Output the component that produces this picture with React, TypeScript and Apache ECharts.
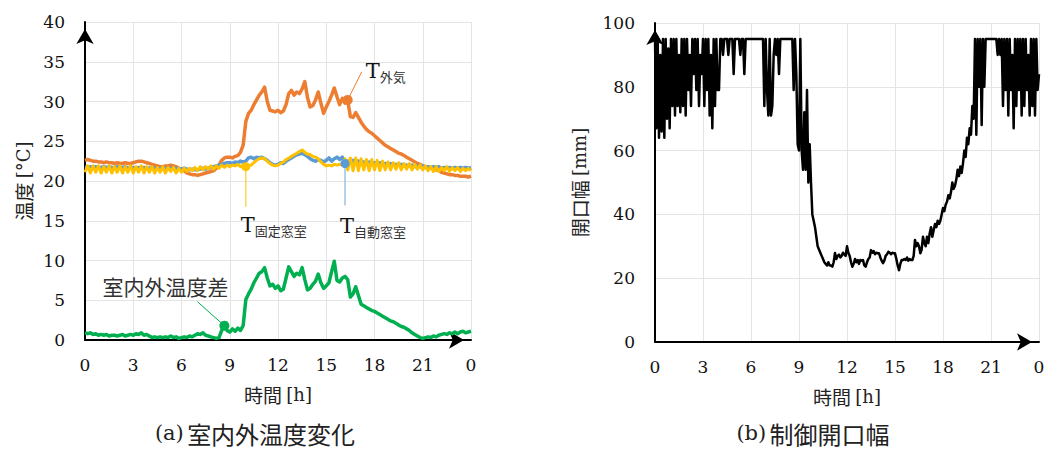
import React, { useEffect, useRef } from 'react';
import * as echarts from 'echarts';

// sampling step of the temperature series: 10 minutes (in hours)
const STEP_H = 1 / 6;
// sampling step of the opening width series: 5 minutes (in hours)
const STEP_OPEN_H = 1 / 12;

const xTickLabels = ['0', '3', '6', '9', '12', '15', '18', '21', '0'];

// T外気 [°C]
const tempOutside = [
  22.6, 22.7, 22.6, 22.5, 22.5, 22.4,
  22.4, 22.3, 22.4, 22.3, 22.3, 22.2,
  22.3, 22.2, 22.2, 22.3, 22.2, 22.2,
  22.3, 22.4, 22.5, 22.5, 22.4, 22.3,
  22.2, 22.1, 22.0, 21.9, 21.8, 21.8,
  21.9, 21.9, 22.0, 21.9, 21.8, 21.6,
  21.5, 21.3, 21.0, 20.9, 20.8, 20.8,
  20.7, 20.8, 20.9, 21.0, 21.1, 21.2,
  21.3, 21.6, 22.0, 22.6, 22.9, 23.0,
  23.0, 22.9, 23.1, 23.2, 23.6, 24.5,
  27.5, 28.5, 28.9, 29.6, 30.2, 30.8,
  31.2, 31.8, 30.0, 28.9, 28.8, 28.7,
  28.9, 28.6, 28.8, 29.6, 31.0, 31.4,
  30.8, 31.2, 31.0, 31.6, 32.5, 30.5,
  29.3, 29.5, 30.2, 31.2, 29.8, 28.5,
  29.3, 30.0, 30.8, 31.7, 30.6, 29.6,
  30.4, 29.8, 30.2, 28.1, 28.0, 28.6,
  28.0, 27.4, 26.9, 26.5, 26.2, 26.0,
  25.7, 25.4, 25.1, 24.8, 24.5, 24.3,
  24.1, 23.9, 23.7, 23.5, 23.4, 23.2,
  23.0, 22.8, 22.6, 22.4, 22.2, 22.1,
  21.9, 21.8, 21.7, 21.6, 21.5, 21.4,
  21.3, 21.1, 21.0, 20.9, 20.8, 20.8,
  20.7, 20.7, 20.6, 20.6, 20.6, 20.5,
  20.6,
];

// T自動窓室 [°C]
const tempAutoRoom = [
  21.8, 21.7, 21.8, 21.7, 21.8, 21.7,
  21.7, 21.8, 21.7, 21.8, 21.7, 21.7,
  21.8, 21.7, 21.7, 21.8, 21.6, 21.7,
  21.7, 21.6, 21.7, 21.6, 21.7, 21.6,
  21.6, 21.7, 21.6, 21.5, 21.6, 21.5,
  21.6, 21.5, 21.6, 21.5, 21.6, 21.5,
  21.5, 21.6, 21.5, 21.4, 21.5, 21.4,
  21.4, 21.5, 21.6, 21.5, 21.6, 21.7,
  21.8, 21.9, 22.0, 22.1, 22.2, 22.3,
  22.3, 22.2, 22.4, 22.3, 22.5, 22.4,
  22.5, 22.9, 23.0, 22.8, 23.0, 22.9,
  23.0, 22.8, 22.6, 22.3, 22.1, 22.0,
  22.1, 22.3, 22.2, 22.5, 22.7, 22.9,
  23.1, 23.3, 23.4, 23.5, 23.3, 23.1,
  22.8, 22.6, 22.5, 22.7, 22.6, 22.4,
  22.6, 22.9, 22.5, 22.8, 23.0, 22.7,
  23.0, 22.2, 22.5, 22.4, 22.6, 22.3,
  22.5, 22.3, 22.4, 22.2, 22.4, 22.2,
  22.3, 22.1, 22.3, 22.1, 22.2, 22.0,
  22.2, 22.0, 22.1, 22.0, 22.1, 21.9,
  22.0, 21.9, 22.0, 21.8, 21.9, 21.8,
  21.9, 21.7, 21.8, 21.7, 21.8, 21.7,
  21.8, 21.6, 21.7, 21.6, 21.7, 21.6,
  21.7, 21.6, 21.7, 21.6, 21.7, 21.6,
  21.7,
];

// T固定窓室 [°C]
const tempFixedRoom = [
  21.1, 21.9, 21.0, 21.9, 21.1, 21.9,
  21.0, 21.8, 21.1, 21.9, 21.0, 21.8,
  21.1, 21.9, 21.0, 21.8, 21.1, 21.9,
  21.0, 21.8, 21.1, 21.9, 21.0, 21.8,
  21.1, 21.8, 21.0, 21.7, 21.1, 21.8,
  21.0, 21.7, 21.2, 21.7, 21.0, 21.6,
  21.1, 21.6, 21.2, 21.6, 21.3, 21.7,
  21.3, 21.8, 21.4, 21.8, 21.5, 21.9,
  21.5, 21.9, 21.6, 22.0, 21.7, 22.0,
  21.8, 22.0, 21.9, 22.1, 21.8, 22.0,
  21.8, 21.9, 22.0, 22.3, 22.6, 22.8,
  22.9, 22.8, 22.5, 22.2, 22.0, 21.9,
  22.0, 22.2, 22.4, 22.7, 22.9, 23.1,
  23.3, 23.5, 23.7, 23.9, 23.6, 23.4,
  23.3, 23.1, 23.0, 22.8, 22.4, 22.1,
  21.9, 22.0, 21.9, 22.1, 22.0, 22.1,
  22.0, 22.8, 21.4, 22.9, 21.3, 22.9,
  21.3, 22.8, 21.4, 22.7, 21.3, 22.7,
  21.4, 22.6, 21.3, 22.5, 21.4, 22.4,
  21.4, 22.3, 21.5, 22.3, 21.4, 22.2,
  21.5, 22.2, 21.4, 22.1, 21.5, 22.0,
  21.4, 21.9, 21.3, 21.8, 21.2, 21.8,
  21.2, 21.7, 21.3, 21.8, 21.2, 21.7,
  21.3, 21.7, 21.2, 21.6, 21.3, 21.6,
  21.3,
];

// 室内外温度差 [°C]
const tempDiff = [
  0.9, 0.8, 0.9, 0.7, 0.8, 0.6,
  0.7, 0.6, 0.7, 0.5, 0.6, 0.6,
  0.5, 0.6, 0.7, 0.5, 0.6, 0.7,
  0.6, 0.8, 0.7, 0.9, 0.6, 0.7,
  0.5, 0.3, 0.4, 0.3, 0.4, 0.3,
  0.4, 0.3, 0.5, 0.3, 0.4, 0.2,
  0.3, 0.4, 0.3, 0.5, 0.4, 0.6,
  0.8, 0.7, 0.9, 0.6, 0.5, 0.4,
  0.3, 0.2, 0.3, 1.2, 1.8, 1.2,
  1.0, 1.4, 1.1, 1.5, 1.2, 1.8,
  5.1, 5.8, 6.4, 7.2, 7.8, 8.4,
  8.6, 9.1, 7.8, 6.8, 7.0, 6.5,
  6.8, 6.2, 6.4, 7.8, 9.2, 8.6,
  8.0, 8.4, 8.2, 9.1, 7.6, 6.3,
  6.5, 7.0, 7.4, 8.3, 7.2, 6.5,
  6.8, 7.2, 8.6, 9.9, 7.5, 7.3,
  7.8, 8.0, 7.6, 5.4, 5.8, 6.7,
  5.6, 4.5, 4.3, 4.1, 3.9, 3.7,
  3.6, 3.4, 3.2, 3.0, 2.8, 2.6,
  2.4, 2.3, 2.1, 1.9, 1.7, 1.6,
  1.4, 1.2, 0.9, 0.7, 0.5, 0.3,
  0.2, 0.3, 0.4, 0.3, 0.5, 0.4,
  0.6, 0.7, 0.8, 0.7, 0.9, 0.8,
  1.0, 0.8, 1.0, 1.1, 0.9, 1.0,
  1.1,
];

// 制御開口幅 [mm] (every 5 minutes, one row per hour)
const openingWidth = [
  95, 67, 95, 64, 90, 66, 95, 64, 95, 70, 92, 67,
  95, 74, 95, 71, 95, 74, 90, 72, 95, 74, 95, 71,
  95, 79, 90, 74, 95, 84, 95, 79, 95, 74, 90, 84,
  95, 74, 95, 79, 95, 71, 90, 67, 95, 74, 95, 79,
  79, 95, 95, 90, 95, 95, 95, 90, 95, 95, 95, 84,
  95, 95, 95, 95, 90, 95, 95, 84, 95, 95, 95, 95,
  95, 95, 95, 95, 95, 95, 95, 95, 95, 95, 74, 95,
  79, 71, 95, 71, 74, 90, 95, 90, 95, 84, 95, 95,
  95, 95, 95, 95, 95, 95, 95, 95, 79, 95, 84, 62,
  60, 95, 60, 54, 72, 54, 79, 50, 62, 50, 40, 38,
  36, 33, 30, 29, 28, 27, 26, 25, 24.5, 24, 25, 24,
  24, 23.6, 25, 27.9, 26, 27, 27.4, 26.5, 27, 28, 27.4, 27,
  30, 28, 27, 25, 23.6, 24.5, 26, 25, 25.7, 24.5, 25.7, 25.5,
  25.7, 24, 23.6, 25, 26, 26.5, 28.8, 28, 28.5, 27.5, 28, 27.8,
  27.8, 26.5, 25.5, 24.7, 25.5, 27, 27.5, 28.3, 28, 27.5, 28, 27.8,
  27.8, 26, 24, 22.5, 24.5, 25.7, 25.7, 26, 25.7, 26.5, 25.5, 26,
  25.7, 25.7, 27, 32, 30, 31, 30, 27.8, 29, 33, 31, 30,
  33, 31, 34, 36, 33, 35, 37, 36, 38, 37, 38, 40,
  42, 41, 43, 44, 46, 45, 47, 50, 48, 49, 51, 54,
  52, 55, 53, 56, 60, 58, 64, 62, 67, 65, 74, 70,
  95, 65, 95, 80, 95, 68, 95, 80, 95, 95, 95, 95,
  95, 95, 95, 95, 95, 90, 95, 90, 95, 74, 95, 79,
  95, 71, 95, 79, 90, 67, 95, 74, 95, 79, 95, 71,
  95, 74, 95, 79, 90, 71, 95, 74, 95, 71, 95, 79,
  84,
];

const ORANGE = '#ED7D31';
const BLUE = '#5B9BD5';
const YELLOW = '#FFC000';
const GREEN = '#00B050';
const SERIF = '"DejaVu Serif", serif';
const GOTHIC = '"Noto Sans CJK JP", sans-serif';
const GRID_COLOR = '#e4e4e4';

const toXY = (arr: number[], step: number) => arr.map((v, i) => [i * step, v]);

function xAxisOf(gridIndex: number) {
  return {
    gridIndex,
    type: 'value',
    min: 0,
    max: 24,
    interval: 3,
    axisLine: {
      show: true,
      onZero: false,
      symbol: ['none', 'arrow'],
      symbolSize: [13, 15],
      symbolOffset: [0, -7],
      lineStyle: { color: '#000', width: 2 },
    },
    axisTick: { show: false },
    axisLabel: {
      margin: 16,
      fontFamily: SERIF,
      fontSize: 17,
      color: '#111',
      formatter: (v: number) => xTickLabels[Math.round(v / 3)] ?? '',
    },
    splitLine: { show: true, lineStyle: { color: GRID_COLOR, width: 1 } },
    name: '{a|時間 }{b|[h]}',
    nameLocation: 'middle',
    nameGap: 45,
    nameTextStyle: {
      rich: {
        a: { fontFamily: GOTHIC, fontSize: 19, color: '#222' },
        b: { fontFamily: SERIF, fontSize: 18, color: '#222' },
      },
    },
  };
}

function yAxisOf(gridIndex: number, max: number, interval: number, name: string, nameGap: number) {
  return {
    gridIndex,
    type: 'value',
    min: 0,
    max,
    interval,
    axisLine: {
      show: true,
      onZero: false,
      symbol: ['none', 'arrow'],
      symbolSize: [13, 15],
      symbolOffset: [0, -7],
      lineStyle: { color: '#000', width: 2 },
    },
    axisTick: { show: false },
    axisLabel: { margin: 20, fontFamily: SERIF, fontSize: 17, color: '#111' },
    splitLine: { show: true, lineStyle: { color: GRID_COLOR, width: 1 } },
    name,
    nameLocation: 'middle',
    nameRotate: 90,
    nameGap,
    nameTextStyle: {
      rich: {
        a: { fontFamily: GOTHIC, fontSize: 19, color: '#222' },
        b: { fontFamily: SERIF, fontSize: 18, color: '#222' },
      },
    },
  };
}

function lineSeries(data: number[][], color: string, width: number, xAxisIndex: number, yAxisIndex: number, z: number) {
  return {
    type: 'line',
    xAxisIndex,
    yAxisIndex,
    data,
    showSymbol: false,
    symbol: 'none',
    z,
    lineStyle: { color, width, join: 'round' },
    itemStyle: { color },
  };
}

export default function App() {
  const ref = useRef<HTMLDivElement>(null);

  useEffect(() => {
    const chart = echarts.init(ref.current!, null, { renderer: 'svg' });
    const option: any = {
      animation: false,
      backgroundColor: '#fff',
      grid: [
        { left: 85, top: 22, width: 386, height: 318 },
        { left: 655, top: 23, width: 384, height: 319 },
      ],
      xAxis: [xAxisOf(0), xAxisOf(1)],
      yAxis: [
        yAxisOf(0, 40, 5, '{a|温度 }{b|[°C]}', 52),
        yAxisOf(1, 100, 20, '{a|開口幅 }{b|[mm]}', 66),
      ],
      series: [
        lineSeries(toXY(tempOutside, STEP_H), ORANGE, 3.5, 0, 0, 2),
        lineSeries(toXY(tempAutoRoom, STEP_H), BLUE, 3.5, 0, 0, 3),
        lineSeries(toXY(tempFixedRoom, STEP_H), YELLOW, 3, 0, 0, 4),
        lineSeries(toXY(tempDiff, STEP_H), GREEN, 3.5, 0, 0, 5),
        lineSeries(toXY(openingWidth, STEP_OPEN_H), '#000', 2.5, 1, 1, 2),
      ],
    };
    chart.setOption(option);

    const px = (t: number, v: number) => chart.convertToPixel({ gridIndex: 0 }, [t, v]) as number[];
    const oIdx = 98, yIdx = 60, bIdx = 97, gIdx = 52;
    const o = px(oIdx * STEP_H, tempOutside[oIdx]);
    const y = px(yIdx * STEP_H, tempFixedRoom[yIdx]);
    const b = px(bIdx * STEP_H, tempAutoRoom[bIdx]);
    const g = px(gIdx * STEP_H, tempDiff[gIdx]);

    const tRich = (sub: string) => ({
      text: `{t|T}{s|${sub}}`,
      rich: {
        t: { fontFamily: SERIF, fontSize: 21, fill: '#111', lineHeight: 24 },
        s: { fontFamily: GOTHIC, fontSize: 13, fill: '#333', lineHeight: 14, verticalAlign: 'bottom' },
      },
      align: 'left',
      verticalAlign: 'middle',
    });

    const caption = (label: string, title: string) => ({
      text: `{a|${label}} {b|${title}}`,
      rich: {
        a: { fontFamily: SERIF, fontSize: 21, fill: '#222' },
        b: { fontFamily: GOTHIC, fontSize: 24, fill: '#222' },
      },
      align: 'center',
      verticalAlign: 'middle',
    });

    chart.setOption({
      graphic: [
        { type: 'line', z: 100, shape: { x1: o[0], y1: o[1], x2: o[0] + 14, y2: o[1] - 28 }, style: { stroke: ORANGE, lineWidth: 1 } },
        { type: 'circle', z: 100, shape: { cx: o[0], cy: o[1], r: 5 }, style: { fill: ORANGE } },
        { type: 'text', z: 100, x: o[0] + 18, y: o[1] - 29, style: tRich('外気') },

        { type: 'line', z: 100, shape: { x1: y[0], y1: y[1], x2: y[0], y2: y[1] + 40 }, style: { stroke: YELLOW, lineWidth: 1 } },
        { type: 'circle', z: 100, shape: { cx: y[0], cy: y[1], r: 4.5 }, style: { fill: YELLOW } },
        { type: 'text', z: 100, x: y[0] - 5, y: y[1] + 58, style: tRich('固定窓室') },

        { type: 'line', z: 100, shape: { x1: b[0], y1: b[1], x2: b[0], y2: b[1] + 42 }, style: { stroke: '#9DC3E6', lineWidth: 1.5 } },
        { type: 'circle', z: 100, shape: { cx: b[0], cy: b[1], r: 4.5 }, style: { fill: BLUE } },
        { type: 'text', z: 100, x: b[0] - 5, y: b[1] + 62, style: tRich('自動窓室') },

        { type: 'line', z: 100, shape: { x1: g[0], y1: g[1], x2: g[0] - 27, y2: g[1] - 24 }, style: { stroke: GREEN, lineWidth: 1 } },
        { type: 'circle', z: 100, shape: { cx: g[0], cy: g[1], r: 5 }, style: { fill: GREEN } },
        {
          type: 'text', z: 100, x: g[0] - 59, y: g[1] - 40,
          style: { text: '室内外温度差', fontFamily: GOTHIC, fontSize: 21, fill: '#333', align: 'center', verticalAlign: 'middle' },
        },

        { type: 'text', x: 255, y: 433, style: caption('(a)', '室内外温度変化') },
        { type: 'text', x: 813, y: 433, style: caption('(b)', '制御開口幅') },
      ],
    });

    return () => chart.dispose();
  }, []);

  return <div ref={ref} style={{ position: 'fixed', left: 0, top: 0, width: 1049, height: 458 }} />;
}
